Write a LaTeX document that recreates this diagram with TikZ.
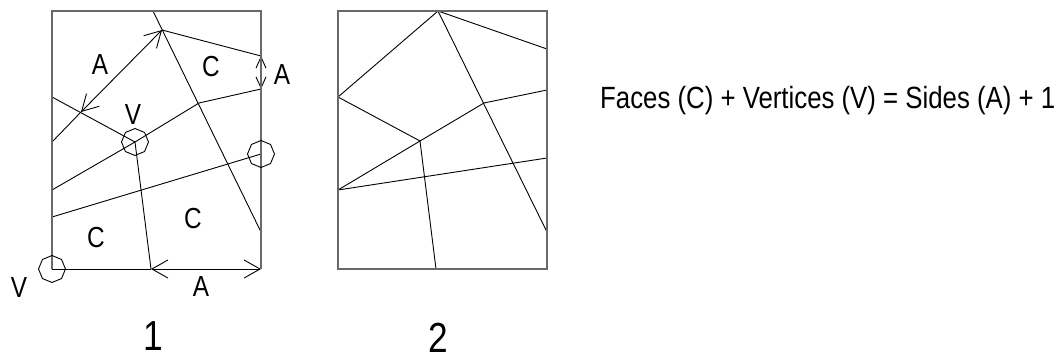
\documentclass[tikz,border=0pt]{standalone}
\usepackage{fontspec}
\setmainfont{Liberation Sans}
\newfontfamily\narrowfont[FakeStretch=0.84]{Liberation Sans}
\usetikzlibrary{arrows.meta,shapes.geometric}
\definecolor{bordergray}{RGB}{105,105,105}
\begin{document}
\begin{tikzpicture}[x=1pt,y={(0pt,-1pt)},
  edge/.style={line width=0.9pt,black},
  frame/.style={line width=1.4pt,draw=bordergray},
  oct/.style={draw,line width=0.9pt,regular polygon,regular polygon sides=8,minimum size=27pt,inner sep=0pt,shape border rotate=22.5},
  lbl/.style={font=\narrowfont\fontsize{29}{29}\selectfont,inner sep=0pt},
  num/.style={font=\narrowfont\fontsize{42}{42}\selectfont,inner sep=0pt},
  arrbig/.style={line width=0.9pt,{Straight Barb[length=16pt,width=18pt]}-{Straight Barb[length=16pt,width=18pt]}},
  arrsmall/.style={line width=0.9pt,{Straight Barb[length=11pt,width=10pt]}-{Straight Barb[length=11pt,width=10pt]}}]
\useasboundingbox (0,0) rectangle (1058,359);
% ---------- panel 1 ----------
\coordinate (a1) at (52,11);
\coordinate (a2) at (261,11);
\coordinate (a3) at (261,269);
\coordinate (a4) at (52,269);
\coordinate (aTop) at (153,11);
\coordinate (aLongEnd) at (261,232);
\coordinate (aQ) at (162,30);
\coordinate (aQr) at (261,56);
\coordinate (aX) at (81,112);
\coordinate (aLend) at (52,142);
\coordinate (aL1) at (52,97);
\coordinate (aV) at (135,142);
\coordinate (aM) at (199,103);
\coordinate (aRr) at (261,89);
\coordinate (aL2) at (52,190);
\coordinate (aB) at (151,269);
\coordinate (aRr2) at (261,154);
\coordinate (aL3) at (52,217);
\draw[edge] (aTop) -- (aLongEnd);
\draw[edge] (aQ) -- (aQr);
\draw[edge] (aLend) -- (aX);
\draw[arrbig] (aX) -- (aQ);
\draw[edge] (aL1) -- (aV);
\draw[edge] (aV) -- (aM) -- (aRr);
\draw[arrsmall] (aQr) -- (aRr);
\draw[edge] (aV) -- (aL2);
\draw[edge] (aV) -- (aB);
\draw[edge] (aRr2) -- (aL3);
\draw[edge] (a4) -- (aB);
\draw[arrbig] (aB) -- (a3);
\draw[frame] (a4) -- (a1) -- (a2) -- (a3);
\node[oct] (o1) at (aV) {};
\node[oct] (o2) at (aRr2) {};
\node[oct] (o3) at (a4) {};
\node[lbl] (tA1) at (100,65) {A};
\node[lbl] (tC1) at (211,67) {C};
\node[lbl] (tA2) at (282,75) {A};
\node[lbl] (tV1) at (133,115) {V};
\node[lbl] (tC2) at (96,238) {C};
\node[lbl] (tC3) at (193,219) {C};
\node[lbl] (tV2) at (19,288) {V};
\node[lbl] (tA3) at (201,287) {A};
\node[num] (n1) at (153,336) {1};
% ---------- panel 2 ----------
\coordinate (b1) at (338,11);
\coordinate (b2) at (547,11);
\coordinate (b3) at (547,269);
\coordinate (b4) at (338,269);
\coordinate (bT) at (438,11);
\coordinate (bR1) at (547,49);
\coordinate (bL) at (338,97);
\coordinate (bV) at (420,141);
\coordinate (bM) at (484,103);
\coordinate (bR2) at (547,90);
\coordinate (bL2) at (338,190);
\coordinate (bB) at (436,269);
\coordinate (bLongEnd) at (547,232);
\coordinate (bR3) at (547,158);
\draw[edge] (bT) -- (bR1);
\draw[edge] (bT) -- (bL) -- (bV) -- (bM) -- (bR2);
\draw[edge] (bV) -- (bL2);
\draw[edge] (bV) -- (bB);
\draw[edge] (bT) -- (bLongEnd);
\draw[edge] (bR3) -- (bL2);
\draw[frame] (b1) rectangle (b3);
\node[num] (n2) at (438,338) {2};
% ---------- formula ----------
\node[anchor=base west,inner sep=0pt,font=\narrowfont\fontsize{30.7}{30.7}\selectfont] (eq) at (600,108) {Faces (C) + Vertices (V) = Sides (A) + 1};
\end{tikzpicture}
\end{document}
